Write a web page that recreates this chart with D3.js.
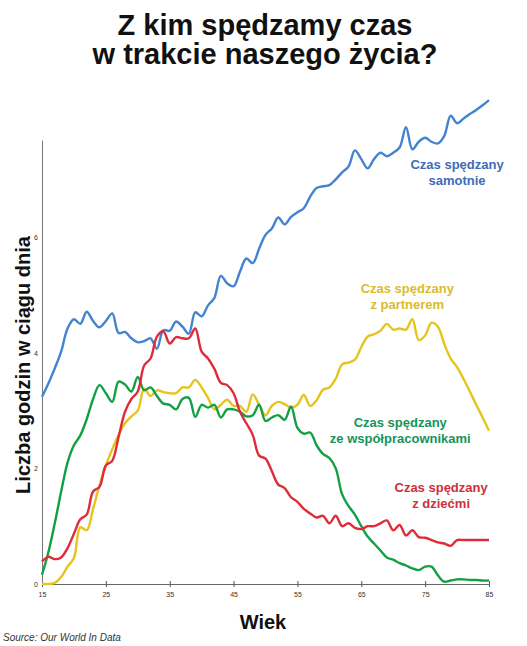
<!DOCTYPE html>
<html>
<head>
<meta charset="utf-8">
<script src="https://cdn.jsdelivr.net/npm/d3@7"></script>
<style>
  body { margin: 0; background: #fff; }
  svg { display: block; font-family: Arial, 'Liberation Sans', sans-serif; }
</style>
</head>
<body>
<svg width="527" height="646"></svg>
<script>
// Data: hours per day by age
const ages = [15,16,17,18,19,20,21,22,23,24,25,26,27,28,29,30,31,32,33,34,35,36,37,38,39,40,
  41,42,43,44,45,46,47,48,49,50,51,52,53,54,55,56,57,58,59,60,61,62,63,64,65,66,67,68,69,70,
  71,72,73,74,75,76,77,78,79,80,81,82,83,84,85];

const alone = [3.24,3.47,3.73,4.02,4.42,4.58,4.50,4.71,4.55,4.44,4.55,4.68,4.34,4.36,4.25,4.18,
  4.20,4.25,4.07,4.39,4.38,4.54,4.45,4.33,4.70,4.63,4.82,4.95,5.33,5.20,5.15,5.40,5.63,5.55,5.80,
  6.04,6.15,6.34,6.22,6.35,6.43,6.50,6.70,6.85,6.88,6.90,7.00,7.12,7.22,7.50,7.35,7.19,7.35,7.46,
  7.40,7.46,7.55,7.90,7.52,7.65,7.72,7.65,7.62,7.75,8.10,7.97,8.05,8.13,8.20,8.28,8.37];

const partner = [0.00,0.00,0.02,0.12,0.30,0.45,0.98,0.93,1.30,1.70,2.05,2.33,2.58,2.78,2.90,3.00,
  3.38,3.25,3.35,3.32,3.30,3.30,3.40,3.40,3.53,3.40,3.22,3.02,3.10,3.19,3.08,3.08,2.98,3.28,3.10,
  2.92,3.08,3.15,3.11,3.05,3.10,3.27,3.08,3.18,3.36,3.40,3.55,3.80,3.83,3.88,4.10,4.28,4.32,4.38,
  4.50,4.40,4.42,4.40,4.58,4.22,4.30,4.52,4.45,4.15,3.90,3.75,3.55,3.33,3.10,2.88,2.65];

const coworkers = [0.16,0.55,1.05,1.60,2.10,2.40,2.57,2.85,3.20,3.44,3.30,3.15,3.50,3.45,3.33,3.58,
  3.35,3.40,3.25,3.12,3.10,3.02,3.20,3.22,2.89,3.10,3.05,3.10,2.88,3.02,3.02,2.98,2.90,2.92,3.10,
  2.82,2.88,2.92,2.84,3.07,2.70,2.60,2.62,2.40,2.25,2.18,2.00,1.55,1.35,1.20,1.00,0.82,0.70,0.58,
  0.46,0.42,0.36,0.32,0.27,0.24,0.30,0.30,0.15,0.04,0.06,0.08,0.08,0.07,0.07,0.06,0.06];

const children = [0.39,0.47,0.43,0.46,0.62,0.87,1.12,1.20,1.60,1.68,2.05,2.13,2.55,2.98,3.20,3.33,
  3.78,3.90,4.28,4.37,4.16,4.27,4.25,4.25,4.42,4.02,3.90,3.72,3.48,3.44,3.30,2.98,2.78,2.58,2.22,
  2.17,1.95,1.72,1.66,1.50,1.42,1.30,1.22,1.15,1.18,1.05,1.18,1.00,1.05,0.97,0.95,1.00,1.00,1.05,
  1.10,0.93,1.02,0.84,0.93,0.81,0.80,0.76,0.72,0.70,0.66,0.76,0.76,0.76,0.76,0.76,0.76];

const xTicks = [15,25,35,45,55,65,75,85];
const yTicks = [0,2,4,6];

const title = ['Z kim spędzamy czas', 'w trakcie naszego życia?'];
const xLabel = 'Wiek';
const yLabel = 'Liczba godzin w ciągu dnia';
const source = 'Source: Our World In Data';

// Dimensions
const width = 527;
const height = 646;
const margin = { top: 140, right: 38, bottom: 62, left: 42 };
const innerWidth = width - margin.left - margin.right;
const innerHeight = height - margin.top - margin.bottom;

const svg = d3.select('svg');
const g = svg.append('g').attr('transform', `translate(${margin.left},${margin.top})`);

// Scales
const xScale = d3.scaleLinear().domain([15, 85]).range([0, innerWidth]);
const yScale = d3.scaleLinear().domain([0, 7.68]).range([innerHeight, 0]);

// Axes
const xAxisG = g.append('g')
  .attr('transform', `translate(0,${innerHeight})`)
  .call(d3.axisBottom(xScale).tickValues(xTicks).tickSize(3).tickPadding(5).tickSizeOuter(0));
xAxisG.selectAll('.tick line').attr('y1', -3).attr('stroke', '#555');
xAxisG.select('.domain').attr('stroke', '#666');
xAxisG.selectAll('text').attr('font-size', 7).attr('fill', '#333');

const yAxisG = g.append('g')
  .call(d3.axisLeft(yScale).tickValues(yTicks).tickSize(0).tickPadding(4).tickSizeOuter(0));
yAxisG.select('.domain').attr('stroke', '#777');
yAxisG.selectAll('text').attr('font-size', 7).attr('fill', '#333');

// Lines
const series = [
  { values: alone, color: '#4383d0' },
  { values: partner, color: '#e6c41e' },
  { values: coworkers, color: '#13a045' },
  { values: children, color: '#df2c38' }
];

const line = d3.line()
  .x((d, i) => xScale(ages[i]))
  .y(d => yScale(d))
  .curve(d3.curveCatmullRom.alpha(0.5));

g.selectAll('path.series')
  .data(series)
  .join('path')
  .attr('class', 'series')
  .attr('fill', 'none')
  .attr('stroke', d => d.color)
  .attr('stroke-width', 2.4)
  .attr('stroke-linejoin', 'round')
  .attr('d', d => line(d.values));

// Series labels, anchored in data coordinates
const labels = [
  { lines: ['Czas spędzany', 'samotnie'], age: 80.0, value: 7.18, color: '#3c6db8' },
  { lines: ['Czas spędzany', 'z partnerem'], age: 72.2, value: 5.03, color: '#dcbb2a' },
  { lines: ['Czas spędzany', 'ze współpracownikami'], age: 71.1, value: 2.72, color: '#16935a' },
  { lines: ['Czas spędzany', 'z dziećmi'], age: 77.5, value: 1.59, color: '#cf2f3c' }
];

labels.forEach(l => {
  const t = g.append('text')
    .attr('x', xScale(l.age))
    .attr('y', yScale(l.value))
    .attr('text-anchor', 'middle')
    .attr('font-size', 13)
    .attr('font-weight', 'bold')
    .attr('fill', l.color);
  l.lines.forEach((s, i) => {
    t.append('tspan')
      .attr('x', xScale(l.age))
      .attr('dy', i === 0 ? 0 : 16)
      .text(s);
  });
});

// Title
svg.append('text')
  .attr('x', 265)
  .attr('y', 35)
  .attr('text-anchor', 'middle')
  .attr('font-size', 29)
  .attr('font-weight', 'bold')
  .attr('fill', '#111')
  .selectAll('tspan')
  .data(title)
  .join('tspan')
  .attr('x', 265)
  .attr('dy', (d, i) => i === 0 ? 0 : 28.5)
  .text(d => d);

// Axis labels
svg.append('text')
  .attr('x', 263)
  .attr('y', 629)
  .attr('text-anchor', 'middle')
  .attr('font-size', 20)
  .attr('font-weight', 'bold')
  .attr('fill', '#111')
  .text(xLabel);

svg.append('text')
  .attr('transform', 'translate(30,365) rotate(-90)')
  .attr('text-anchor', 'middle')
  .attr('font-size', 20)
  .attr('font-weight', 'bold')
  .attr('fill', '#111')
  .text(yLabel);

svg.append('text')
  .attr('x', 3)
  .attr('y', 641)
  .attr('font-size', 10)
  .attr('font-style', 'italic')
  .attr('fill', '#333')
  .text(source);
</script>
</body>
</html>
